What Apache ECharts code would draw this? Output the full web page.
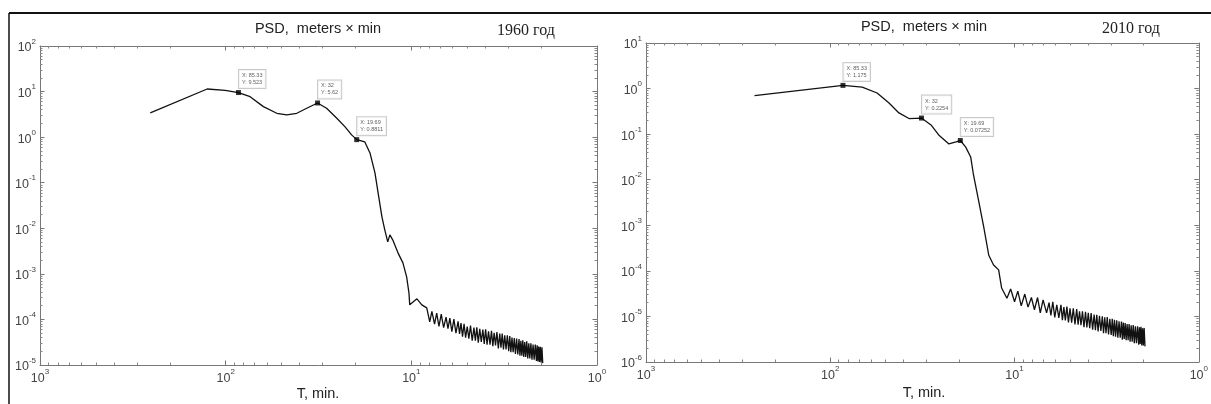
<!DOCTYPE html>
<html>
<head>
<meta charset="utf-8">
<script src="https://cdn.jsdelivr.net/npm/echarts@6/dist/echarts.min.js"></script>
<style>
  html, body { margin: 0; padding: 0; background: #fff; }
  #chart { width: 1211px; height: 404px; }
</style>
</head>
<body>
<div id="chart"></div>
<script>
// 1960: period T (min) and PSD value
const leftT = [254.7, 125.8, 100.7, 85.33, 73.84, 62.65, 53.05, 46.9, 41.4, 36.6, 32, 28.6, 25.2, 22.8, 20.97, 19.69,
  17.8, 16.7, 15.7, 15.1, 14.4, 13.9, 13.4, 13.05, 12.6, 11.8, 11.1, 10.6, 10.3, 10.2, 9.33, 8.78, 8.26, 7.96,
  7.75, 7.5, 7.3, 7.1, 6.9, 6.7, 6.5, 6.35, 6.2, 6.05, 5.9, 5.75, 5.6, 5.5, 5.4, 5.3, 5.2, 5.1, 5.0,
  4.9, 4.8, 4.7, 4.6, 4.52, 4.44, 4.36, 4.28, 4.2, 4.12, 4.05, 3.98, 3.91, 3.84, 3.77, 3.7, 3.64, 3.58, 3.52,
  3.46, 3.4, 3.34, 3.29, 3.24, 3.19, 3.14, 3.09, 3.04, 2.99, 2.95, 2.91, 2.87, 2.83, 2.79, 2.75, 2.71, 2.67,
  2.63, 2.6, 2.57, 2.54, 2.51, 2.48, 2.45, 2.42, 2.39, 2.36, 2.33, 2.3, 2.27, 2.24, 2.21, 2.18, 2.15, 2.12,
  2.1, 2.08, 2.06, 2.04, 2.02, 2.0, 1.98, 1.96];
const leftV = [3.4, 11.4, 10.6, 9.523, 7.73, 4.67, 3.34, 3.07, 3.34, 4.30, 5.62, 4.30, 2.60, 1.70, 1.12, 0.8811,
  0.785, 0.451, 0.164, 0.0597, 0.0178, 0.00923, 0.00504, 0.00716, 0.00557, 0.00289, 0.00174, 0.00086, 0.000383,
  0.000209, 0.000283, 0.000209, 0.000179, 8.85e-5,
  1.5e-4, 7.9e-5, 1.38e-4, 7.0e-5, 1.3e-4, 6.6e-5, 1.12e-4, 6.3e-5, 1.07e-4, 5.4e-5,
  1.02e-4, 5.0e-5, 9.1e-5, 4.8e-5, 8.3e-5, 4.2e-5, 8.0e-5, 4.0e-5, 7.0e-5,
  3.8e-5, 7.3e-5, 3.4e-5, 6.6e-5, 3.4e-5, 6.7e-5, 3.1e-5, 6.2e-5, 3.2e-5, 6.0e-5, 2.9e-5,
  6.1e-5, 2.8e-5, 5.5e-5, 2.8e-5, 5.6e-5, 2.6e-5, 5.1e-5, 2.7e-5, 5.3e-5, 2.3e-5, 4.9e-5, 2.4e-5, 4.9e-5,
  2.2e-5, 4.5e-5, 2.2e-5, 4.5e-5,
  2.0e-5, 4.3e-5, 1.9e-5, 4.0e-5, 1.9e-5, 3.9e-5, 1.75e-5, 3.8e-5, 1.7e-5, 3.7e-5, 1.6e-5, 3.4e-5, 1.6e-5,
  3.5e-5, 1.5e-5, 3.2e-5, 1.5e-5, 3.3e-5, 1.4e-5, 3.0e-5, 1.4e-5, 3.0e-5, 1.3e-5, 2.8e-5, 1.3e-5,
  2.8e-5, 1.22e-5, 2.7e-5, 1.2e-5, 2.55e-5, 1.17e-5, 2.5e-5, 1.14e-5, 2.45e-5, 1.1e-5];

// 2010
const rightT = [257.6, 85.33, 67.1, 55.7, 48.0, 42.4, 37.4, 32, 28.4, 25.8, 22.7, 20.8, 19.69, 18.4, 17.3,
  16.7, 15.7, 14.7, 13.8, 13.0, 12.2, 11.75, 11.5,
  11.0, 10.5, 10.0, 9.6, 9.2, 8.8, 8.45, 8.1, 7.8, 7.5, 7.25, 7.0,
  6.7, 6.5, 6.35, 6.2, 6.05, 5.9, 5.75, 5.6, 5.5, 5.4, 5.3, 5.2, 5.1, 5.0,
  4.9, 4.8, 4.7, 4.6, 4.52, 4.44, 4.36, 4.28, 4.2, 4.12, 4.05, 3.98, 3.91, 3.84, 3.77, 3.7, 3.64, 3.58, 3.52,
  3.46, 3.4, 3.34, 3.29, 3.24, 3.19, 3.14, 3.09, 3.04, 2.99, 2.95, 2.91, 2.87, 2.83, 2.79, 2.75, 2.71, 2.67,
  2.63, 2.6, 2.57, 2.54, 2.51, 2.48, 2.45, 2.42, 2.39, 2.36, 2.33, 2.3, 2.27, 2.24, 2.21, 2.18, 2.15, 2.12,
  2.1, 2.08, 2.06, 2.04, 2.02, 2.0, 1.98, 1.96];
const rightV = [0.70, 1.175, 1.08, 0.80, 0.483, 0.292, 0.22, 0.2254, 0.159, 0.096, 0.061, 0.0675, 0.07252, 0.052, 0.0316,
  0.0127, 0.0036, 9.2e-4, 2.2e-4, 1.35e-4, 1.05e-4, 4.2e-5, 3.8e-5,
  2.5e-5, 4.0e-5, 2.1e-5, 3.6e-5, 1.7e-5, 3.1e-5, 1.6e-5, 2.6e-5, 1.4e-5, 2.6e-5, 1.2e-5, 2.3e-5,
  1.2e-5, 2.0e-5, 1.05e-5, 2.1e-5, 9.5e-6, 1.8e-5, 9.3e-6, 1.8e-5, 8.3e-6, 1.6e-5, 8.2e-6, 1.65e-5, 7.4e-6, 1.5e-5,
  7.3e-6, 1.5e-5, 6.7e-6, 1.45e-5, 6.6e-6, 1.3e-5, 6.4e-6, 1.3e-5, 5.8e-6, 1.27e-5, 5.7e-6, 1.2e-5, 5.5e-6,
  1.19e-5, 5.1e-6, 1.1e-5, 5.0e-6, 1.09e-5, 4.7e-6,
  1.03e-5, 4.8e-6, 1.01e-5, 4.3e-6, 9.6e-6, 4.3e-6, 9.7e-6, 4.0e-6, 8.9e-6, 3.9e-6, 8.9e-6, 3.7e-6, 8.4e-6,
  3.6e-6, 8.2e-6, 3.4e-6, 7.8e-6, 3.4e-6,
  7.7e-6, 3.1e-6, 7.3e-6, 3.2e-6, 7.2e-6, 3.0e-6, 6.8e-6, 3.0e-6, 6.8e-6, 2.8e-6, 6.4e-6, 2.8e-6, 6.5e-6, 2.6e-6,
  6.1e-6, 2.6e-6, 6.1e-6, 2.4e-6, 5.8e-6, 2.5e-6, 5.9e-6, 2.3e-6, 5.5e-6, 2.3e-6, 5.6e-6, 2.2e-6];

// data tips
const markT = [85.33, 32, 19.69];
const leftMarkV = [9.523, 5.62, 0.8811];
const rightMarkV = [1.175, 0.2254, 0.07252];

const panelTitles = ["PSD,  meters \u00d7 min", "PSD,  meters \u00d7 min"];
const panelYears = ["1960 год", "2010 год"];
const xName = "T, min.";

const chart = echarts.init(document.getElementById("chart"));

function pairs(xs, ys) {
  const out = [];
  for (let i = 0; i < Math.min(xs.length, ys.length); i++) out.push([xs[i], ys[i]]);
  return out;
}

// log minor tick positions (2..9 per decade)
function minorVals(lo, hi) {
  const out = [];
  for (let e = lo; e < hi; e++) {
    for (let k = 2; k <= 9; k++) out.push(k * Math.pow(10, e));
  }
  return out;
}

function logLabel(v) {
  const e = Math.round(Math.log10(v));
  return "{b|10}{e|" + e + "}";
}

const labelRich = {
  b: { fontSize: 12.5, color: "#444", fontFamily: "Arial, Liberation Sans", lineHeight: 17, verticalAlign: "bottom" },
  e: { fontSize: 8, color: "#444", fontFamily: "Arial, Liberation Sans", lineHeight: 17, verticalAlign: "top" }
};

function xAxisFor(grid, pos, minor) {
  return {
    type: "log",
    logBase: 10,
    min: 1,
    max: 1000,
    inverse: true,
    gridIndex: grid,
    position: pos,
    axisLine: { show: !minor, lineStyle: { color: "#777", width: 1 } },
    axisTick: minor
      ? { show: true, inside: true, length: 2.5, customValues: minorVals(0, 3), lineStyle: { color: "#888" } }
      : { show: true, inside: true, length: 4.5, lineStyle: { color: "#777" } },
    splitLine: { show: false },
    axisLabel: (pos === "bottom" && !minor)
      ? { show: true, margin: 3, formatter: logLabel, rich: labelRich }
      : { show: false }
  };
}

function yAxisFor(grid, pos, lo, hi, minor) {
  return {
    type: "log",
    logBase: 10,
    min: Math.pow(10, lo),
    max: Math.pow(10, hi),
    gridIndex: grid,
    position: pos,
    axisLine: { show: !minor, lineStyle: { color: "#777", width: 1 } },
    axisTick: minor
      ? { show: true, inside: true, length: 2.5, customValues: minorVals(lo, hi), lineStyle: { color: "#888" } }
      : { show: true, inside: true, length: 4.5, lineStyle: { color: "#777" } },
    splitLine: { show: false },
    axisLabel: (pos === "left" && !minor)
      ? { show: true, margin: 4, formatter: logLabel, rich: labelRich }
      : { show: false }
  };
}

function tipLabels(vals) {
  return markT.map((t, i) => ({
    value: [t, vals[i]],
    label: {
      show: true,
      position: [3, -20],
      formatter: "X: " + t + "\nY: " + vals[i],
      fontSize: 5.5,
      lineHeight: 7,
      color: "#333",
      backgroundColor: "#fff",
      borderColor: "#bbb",
      borderWidth: 1,
      padding: [2, 3]
    }
  }));
}

const textFont = "14.5px Arial, 'Liberation Sans', sans-serif";
const serifFont = "16px 'Liberation Serif', 'DejaVu Serif', serif";

const option = {
  backgroundColor: "#fff",
  animation: false,
  grid: [
    { left: 40, top: 46, width: 557, height: 319 },
    { left: 646, top: 43, width: 556, height: 319 }
  ],
  xAxis: [
    xAxisFor(0, "bottom"), xAxisFor(0, "top"), xAxisFor(1, "bottom"), xAxisFor(1, "top"),
    xAxisFor(0, "bottom", true), xAxisFor(0, "top", true), xAxisFor(1, "bottom", true), xAxisFor(1, "top", true)
  ],
  yAxis: [
    yAxisFor(0, "left", -5, 2), yAxisFor(0, "right", -5, 2),
    yAxisFor(1, "left", -6, 1), yAxisFor(1, "right", -6, 1),
    yAxisFor(0, "left", -5, 2, true), yAxisFor(0, "right", -5, 2, true),
    yAxisFor(1, "left", -6, 1, true), yAxisFor(1, "right", -6, 1, true)
  ],
  series: [
    {
      type: "line", xAxisIndex: 0, yAxisIndex: 0, data: pairs(leftT, leftV),
      showSymbol: false, lineStyle: { color: "#111", width: 1.3 }, smooth: false
    },
    {
      type: "line", xAxisIndex: 2, yAxisIndex: 2, data: pairs(rightT, rightV),
      showSymbol: false, lineStyle: { color: "#111", width: 1.3 }, smooth: false
    },
    {
      type: "scatter", xAxisIndex: 0, yAxisIndex: 0, symbol: "rect", symbolSize: 5,
      itemStyle: { color: "#000" }, data: tipLabels(leftMarkV), z: 5
    },
    {
      type: "scatter", xAxisIndex: 2, yAxisIndex: 2, symbol: "rect", symbolSize: 5,
      itemStyle: { color: "#000" }, data: tipLabels(rightMarkV), z: 5
    }
  ],
  graphic: [
    { type: "line", shape: { x1: 9, y1: 13, x2: 1211, y2: 13 }, style: { stroke: "#111", lineWidth: 2 } },
    { type: "line", shape: { x1: 9, y1: 13, x2: 9, y2: 404 }, style: { stroke: "#111", lineWidth: 1.5 } },
    { type: "text", x: 318, y: 29, style: { text: panelTitles[0], font: textFont, fill: "#222", textAlign: "center", textVerticalAlign: "middle" } },
    { type: "text", x: 526, y: 31, style: { text: panelYears[0], font: serifFont, fill: "#222", textAlign: "center", textVerticalAlign: "middle" } },
    { type: "text", x: 924, y: 27, style: { text: panelTitles[1], font: textFont, fill: "#222", textAlign: "center", textVerticalAlign: "middle" } },
    { type: "text", x: 1131, y: 29, style: { text: panelYears[1], font: serifFont, fill: "#222", textAlign: "center", textVerticalAlign: "middle" } },
    { type: "text", x: 318, y: 394, style: { text: xName, font: textFont, fill: "#222", textAlign: "center", textVerticalAlign: "middle" } },
    { type: "text", x: 924, y: 393, style: { text: xName, font: textFont, fill: "#222", textAlign: "center", textVerticalAlign: "middle" } }
  ]
};

chart.setOption(option);
</script>
</body>
</html>
